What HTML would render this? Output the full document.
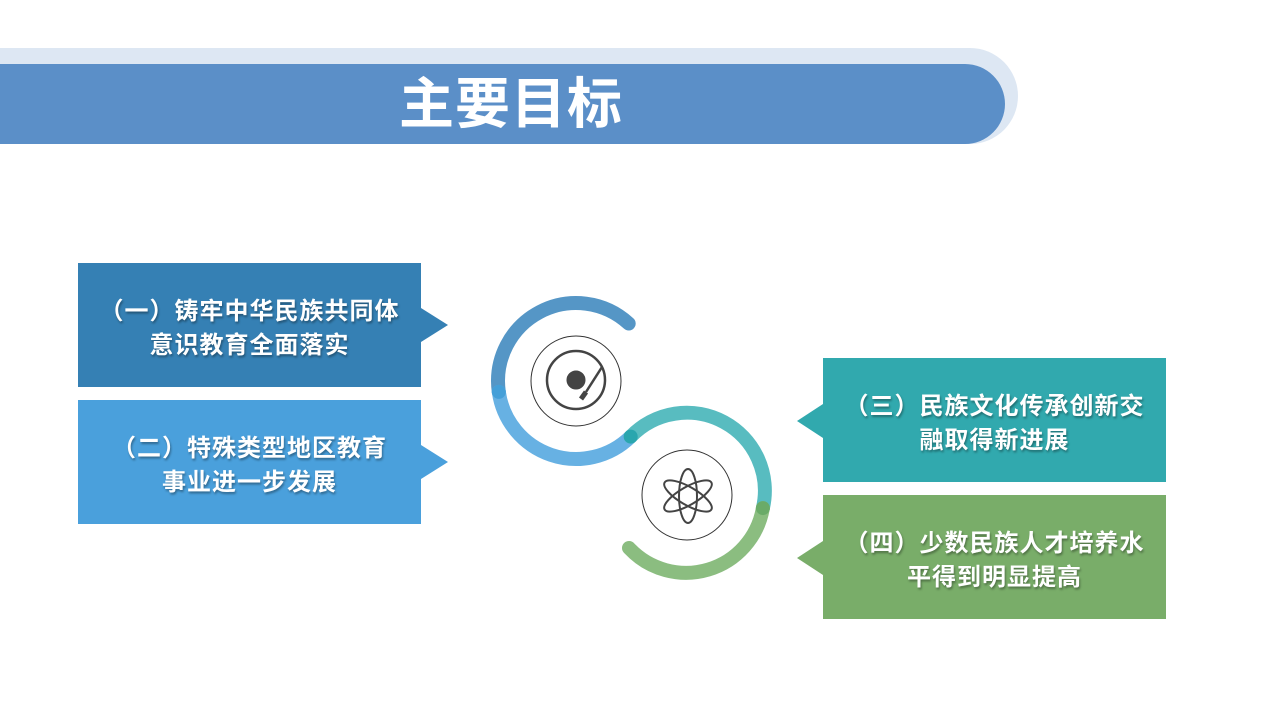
<!DOCTYPE html>
<html><head><meta charset="utf-8"><style>
body{margin:0;width:1280px;height:720px;background:#fff;position:relative;overflow:hidden;font-family:"Liberation Sans","Noto Sans CJK SC",sans-serif}
.band1{position:absolute;left:-40px;top:48px;width:1058px;height:96px;background:#dde7f3;border-radius:0 48px 48px 0}
.band2{position:absolute;left:-40px;top:64px;width:1045px;height:80px;background:#5b8fc8;border-radius:0 40px 40px 0}
.title{position:absolute;left:0;width:1022px;top:72px;text-align:center;color:#fff;font-size:55px;font-weight:bold;line-height:64px;letter-spacing:1px}
.box{position:absolute;width:343px;height:124px;box-sizing:border-box;padding-top:8px;color:#fff;font-weight:bold;font-size:24px;line-height:34px;letter-spacing:1px;display:flex;align-items:center;justify-content:center;text-align:center;text-shadow:1px 2px 2px rgba(0,0,0,.35);white-space:nowrap}
.tr{position:absolute;width:0;height:0;border-top:17px solid transparent;border-bottom:17px solid transparent}
</style></head><body>
<div class="band1"></div><div class="band2"></div>
<div class="title">主要目标</div>

<div class="box" style="left:78px;top:263px;background:#3580b4"><div>（一）铸牢中华民族共同体<br>意识教育全面落实</div></div>
<div class="tr" style="left:421px;top:308px;border-left:27px solid #3580b4"></div>
<div class="box" style="left:78px;top:400px;background:#4aa0dc"><div>（二）特殊类型地区教育<br>事业进一步发展</div></div>
<div class="tr" style="left:421px;top:445px;border-left:27px solid #4aa0dc"></div>
<div class="box" style="left:823px;top:358px;background:#31a9ae"><div>（三）民族文化传承创新交<br>融取得新进展</div></div>
<div class="tr" style="left:797px;top:404px;border-right:26px solid #31a9ae"></div>
<div class="box" style="left:823px;top:495px;background:#79ad69"><div>（四）少数民族人才培养水<br>平得到明显提高</div></div>
<div class="tr" style="left:797px;top:541px;border-right:26px solid #79ad69"></div>

<svg width="1280" height="720" style="position:absolute;left:0;top:0" fill="none">
<g stroke-width="14" stroke-linecap="round">
<path d="M628.7 323.5 A78 78 0 0 0 498.8 391.9" stroke="#5596c6"/>
<path d="M498.8 391.9 A78 78 0 0 0 630.7 436.6" stroke="#67b1e3"/>
<path d="M630.7 436.6 A78 78 0 0 1 762.9 508.1" stroke="#58bcc0"/>
<path d="M762.9 508.1 A78 78 0 0 1 629 548" stroke="#8bbd80"/>
</g>
<circle cx="498.8" cy="391.9" r="7" fill="#449fd8"/>
<circle cx="630.7" cy="436.6" r="7" fill="#2aa6ae"/>
<circle cx="762.9" cy="508.1" r="7" fill="#6aab68"/>
<circle cx="576" cy="381" r="45" stroke="#333" stroke-width="1"/>
<circle cx="687" cy="495" r="45" stroke="#333" stroke-width="1"/>
<g stroke="#444">
<circle cx="576" cy="380" r="29" stroke-width="2.5"/>
<circle cx="576" cy="380" r="9" fill="#444"/>
<path d="M602 367 L586 392" stroke-width="2.5"/>
<path d="M586 392 L581 399" stroke-width="5"/>
</g>
<g stroke="#444" stroke-width="2">
<ellipse cx="688" cy="496" rx="9" ry="27"/>
<ellipse cx="688" cy="496" rx="9" ry="27" transform="rotate(60 688 496)"/>
<ellipse cx="688" cy="496" rx="9" ry="27" transform="rotate(-60 688 496)"/>
</g>
</svg>
</body></html>
